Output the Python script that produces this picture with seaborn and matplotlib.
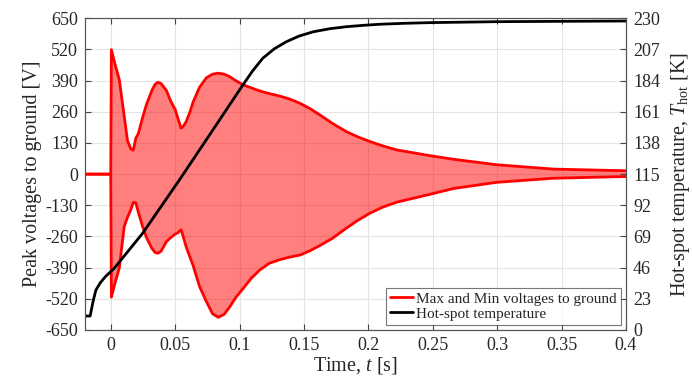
import numpy as np
import pandas as pd
import matplotlib
matplotlib.use("Agg")
import matplotlib.pyplot as plt
import seaborn as sns

# ---- data ----
time = [-0.02, 0.0, 0.0005, 0.003, 0.0066, 0.0105, 0.013, 0.0155, 0.0175, 0.0195,
        0.0215, 0.0247, 0.0277, 0.032, 0.0345, 0.0366, 0.039, 0.0433, 0.0465, 0.050,
        0.052, 0.0546, 0.056, 0.0585, 0.0614, 0.0639, 0.0689, 0.0743, 0.079, 0.0834,
        0.088, 0.0922, 0.097, 0.1026, 0.109, 0.1156, 0.123, 0.131, 0.139, 0.1467,
        0.1545, 0.1623, 0.172, 0.183, 0.192, 0.2012, 0.211, 0.222, 0.2479, 0.266,
        0.2998, 0.344, 0.4]
v_max = [0, 0, 519, 465, 395, 240, 140, 106, 100, 150,
         170, 235, 290, 350, 375, 383, 378, 348, 305, 270,
         235, 192, 197, 218, 258, 300, 362, 402, 417, 421,
         417, 407, 390, 373, 360, 347, 336, 326, 313, 296,
         274, 247, 212, 177, 155, 136, 118, 101, 77, 62,
         39, 21, 14]
v_min = [0, 0, -513, -460, -392, -218, -180, -150, -118, -120,
         -160, -218, -264, -310, -327, -330, -322, -281, -265, -250,
         -245, -232, -255, -302, -345, -380, -468, -532, -582, -597,
         -585, -555, -515, -478, -435, -400, -372, -357, -346, -338,
         -320, -298, -268, -225, -192, -163, -138, -117, -84, -60,
         -34, -17, -10]

t_temp = [-0.02, -0.016, -0.015, -0.0135, -0.0115, -0.008, -0.004, 0.0027, 0.0247,
          0.0533, 0.075, 0.0922, 0.1026, 0.11, 0.118, 0.127, 0.1363, 0.146, 0.157,
          0.17, 0.183, 0.196, 0.209, 0.228, 0.248, 0.3, 0.4]
temp = [10.3, 10.3, 15, 22, 29.5, 35, 39.5, 45.5, 71.3,
        110.7, 141.5, 166, 180.8, 191, 200.5, 207.5, 212.7, 216.8, 220,
        222.3, 223.8, 224.8, 225.6, 226.3, 226.8, 227.5, 228]

x_ticks = [0, 0.05, 0.1, 0.15, 0.2, 0.25, 0.3, 0.35, 0.4]
v_ticks = list(range(-650, 651, 130))
t_ticks = list(range(0, 231, 23))

# ---- style ----
sns.set_theme(style="ticks")
plt.rcParams["font.family"] = ["Liberation Serif", "DejaVu Serif"]
plt.rcParams["mathtext.fontset"] = "custom"
plt.rcParams["mathtext.rm"] = "Liberation Serif"
plt.rcParams["mathtext.it"] = "Liberation Serif:italic"
plt.rcParams["axes.unicode_minus"] = False

df_v = pd.DataFrame({"t": time, "vmax": v_max, "vmin": v_min})
df_t = pd.DataFrame({"t": t_temp, "T": temp})

fig = plt.figure(figsize=(6.92, 3.81), dpi=100)
ax = fig.add_axes([0.1228, 0.1339, 0.7818, 0.8181])

ax.fill_between(df_v["t"], df_v["vmin"], df_v["vmax"], color="red", alpha=0.5, lw=0)
sns.lineplot(data=df_v, x="t", y="vmax", ax=ax, color="red", lw=2,
             estimator=None, sort=False, label="Max and Min voltages to ground")
sns.lineplot(data=df_v, x="t", y="vmin", ax=ax, color="red", lw=2,
             estimator=None, sort=False, legend=False)

ax.set_xlim(-0.02, 0.4)
ax.set_ylim(-650, 650)
ax.set_xticks(x_ticks)
ax.set_xticklabels([f"{v:g}" for v in x_ticks])
ax.set_yticks(v_ticks)
ax.set_yticklabels([f"{v:d}" for v in v_ticks])
ax.grid(True, color="#e4e4e4", lw=0.8)
ax.set_axisbelow(True)
ax.tick_params(direction="in", top=True, right=False, labelsize=13,
               length=4, width=0.8, color="#444444", pad=5)
ax.set_xlabel("Time, $t$ [s]", fontsize=14.5, labelpad=1)
ax.set_ylabel("Peak voltages to ground [V]", fontsize=14.5, labelpad=2)

ax2 = ax.twinx()
sns.lineplot(data=df_t, x="t", y="T", ax=ax2, color="black", lw=2,
             estimator=None, sort=False, label="Hot-spot temperature")
ax2.set_ylim(0, 230)
ax2.set_yticks(t_ticks)
ax2.set_yticklabels([f"{v:d}" for v in t_ticks])
ax2.tick_params(direction="in", labelsize=13, length=4, width=0.8,
                color="#444444", pad=5)
ax2.set_ylabel("Hot-spot temperature, $T_{\\mathrm{hot}}$ [K]", fontsize=14.5, labelpad=6)
ax2.set_xlim(-0.02, 0.4)

for a in (ax, ax2):
    for s in a.spines.values():
        s.set_color("#555555")
        s.set_linewidth(0.8)

h1, l1 = ax.get_legend_handles_labels()
h2, l2 = ax2.get_legend_handles_labels()
if ax.get_legend() is not None:
    ax.get_legend().remove()
if ax2.get_legend() is not None:
    ax2.get_legend().remove()
leg = ax2.legend(h1 + h2, l1 + l2, loc="lower right", fontsize=11,
                 frameon=True, fancybox=False, edgecolor="#555555",
                 borderaxespad=0.35, handlelength=1.5, handletextpad=0.2,
                 borderpad=0.25, labelspacing=0.1)
leg.get_frame().set_linewidth(0.8)

fig.savefig("out.png", dpi=100)
